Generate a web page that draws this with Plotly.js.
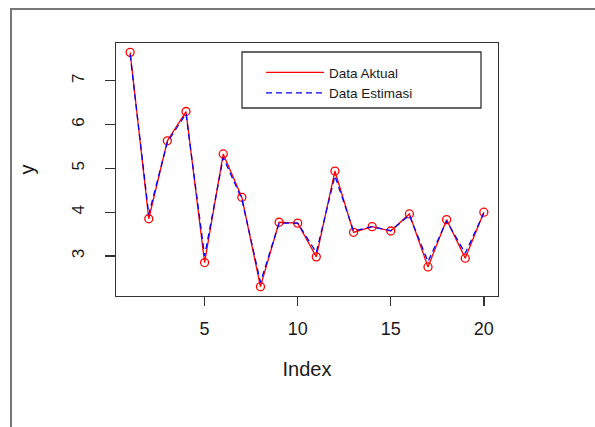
<!DOCTYPE html>
<html><head><meta charset="utf-8">
<script src="https://cdn.plot.ly/plotly-3.0.1.min.js"></script>
<style>html,body{margin:0;padding:0;background:#fff}#chart{width:595px;height:427px}</style>
</head><body><div id="chart"></div>
<script>
const index = [1,2,3,4,5,6,7,8,9,10,11,12,13,14,15,16,17,18,19,20];
const aktual = [7.65,3.85,5.63,6.30,2.85,5.33,4.34,2.30,3.77,3.75,2.98,4.94,3.54,3.67,3.57,3.96,2.75,3.83,2.95,4.00];
const estimasi = [7.60,3.95,5.60,6.25,3.00,5.25,4.30,2.40,3.75,3.75,3.08,4.83,3.57,3.67,3.58,3.93,2.87,3.80,3.06,3.98];
const xTicks = [5,10,15,20];
const yTicks = [3,4,5,6,7];
const seriesNames = ['Data Aktual','Data Estimasi'];
const xTitle = 'Index';
const yTitle = 'y';

const FONT = 'Liberation Sans, Arial, sans-serif';
const TXT = '#1a1a1a';

function padRange(arr){
  const mn = Math.min(...arr), mx = Math.max(...arr), d = (mx - mn) * 0.04;
  return [mn - d, mx + d];
}

const traces = [
  {x: index, y: aktual, name: seriesNames[0], mode: 'lines', type: 'scatter',
   line: {color: '#ff0000', width: 1.3}},
  {x: index, y: aktual, mode: 'markers', type: 'scatter', showlegend: false, hoverinfo: 'skip',
   marker: {symbol: 'circle-open', size: 8, color: '#ff0000', line: {color: '#ff0000', width: 1.3}}},
  {x: index, y: estimasi, name: seriesNames[1], mode: 'lines', type: 'scatter',
   line: {color: '#0000ff', width: 1.3, dash: '6px,4px'}}
];

const L = 116, R = 97, T = 43, B = 131;
const W = 595 - L - R, H = 427 - T - B;
const px = v => (v - L) / W;
const py = v => (427 - B - v) / H;

const layout = {
  width: 595, height: 427,
  margin: {l: L, r: R, t: T, b: B, pad: 0},
  paper_bgcolor: '#ffffff', plot_bgcolor: '#ffffff',
  font: {family: FONT, color: TXT},
  showlegend: true,
  legend: {x: px(261), y: py(57), xanchor: 'left', yanchor: 'top',
    bgcolor: 'rgba(0,0,0,0)', borderwidth: 0, itemwidth: 58,
    font: {family: FONT, size: 13.5, color: TXT}, tracegroupgap: 0},
  xaxis: {range: padRange(index), tickvals: xTicks, ticktext: xTicks.map(String),
    ticks: 'outside', ticklen: 9, tickwidth: 1.3, tickcolor: '#333',
    showline: true, linecolor: '#333', linewidth: 1.3, mirror: true,
    showgrid: false, zeroline: false, automargin: false,
    ticklabelstandoff: 7,
    tickfont: {family: FONT, size: 18, color: TXT},
    title: {text: xTitle, font: {family: FONT, size: 20, color: TXT}, standoff: 24}},
  yaxis: {range: padRange(aktual), tickvals: yTicks, ticktext: yTicks.map(String),
    ticks: 'outside', ticklen: 10, tickwidth: 1.3, tickcolor: '#333', tickangle: -90,
    showline: true, linecolor: '#333', linewidth: 1.3, mirror: true,
    showgrid: false, zeroline: false, automargin: false,
    ticklabelstandoff: 14,
    tickfont: {family: FONT, size: 17, color: TXT},
    title: {text: yTitle, font: {family: FONT, size: 20, color: TXT}, standoff: 29}},
  shapes: [
    {type: 'rect', xref: 'paper', yref: 'paper', x0: px(242), x1: px(481), y0: py(108), y1: py(52),
     line: {color: '#333', width: 1.3}, fillcolor: 'rgba(0,0,0,0)'},
    {type: 'rect', xref: 'paper', yref: 'paper', x0: px(11), x1: px(640), y0: py(480), y1: py(9),
     line: {color: '#777', width: 2}, fillcolor: 'rgba(0,0,0,0)'}
  ]
};

Plotly.newPlot('chart', traces, layout, {staticPlot: true, displayModeBar: false});
</script></body></html>
